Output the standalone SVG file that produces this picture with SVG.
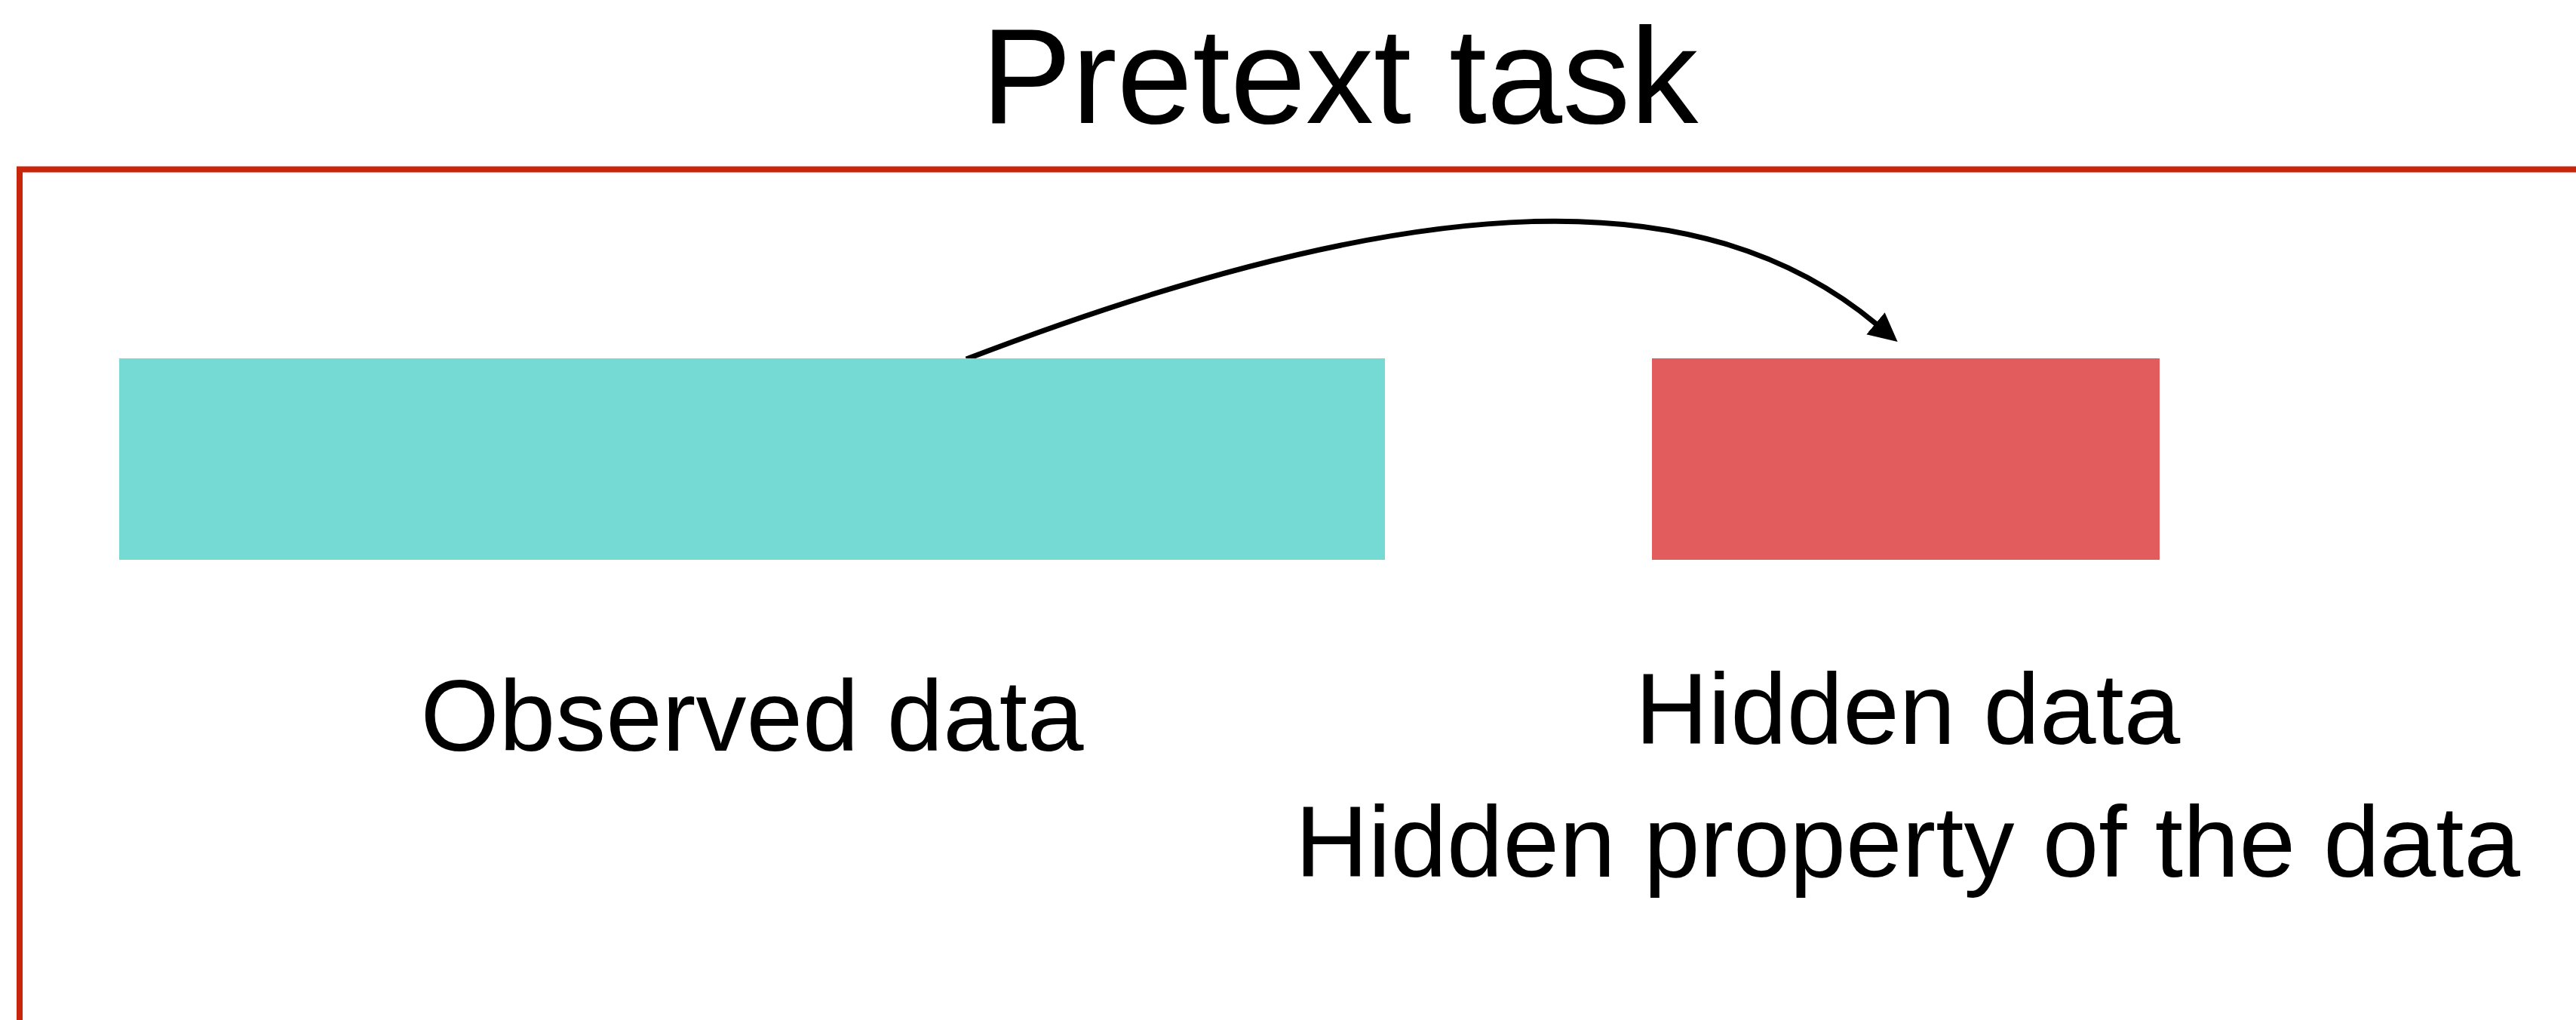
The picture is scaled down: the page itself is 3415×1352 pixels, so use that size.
<svg xmlns="http://www.w3.org/2000/svg" width="3415" height="1352" viewBox="0 0 3415 1352">
<style>
.lbl{font-family:"Liberation Sans",Arial,Helvetica,sans-serif;fill:#000;text-anchor:middle}
.conn{fill:none;stroke:#000;stroke-width:7}
</style>
<defs>
<marker id="ah" markerUnits="userSpaceOnUse" markerWidth="44" markerHeight="44" refX="2" refY="19" orient="auto">
<path d="M0,0 L38,19 L0,38 z" fill="#000"/>
</marker>
</defs>
<rect width="3415" height="1352" fill="#fff"/>
<text class="lbl" x="1776" y="163" font-size="180">Pretext task</text>
<g id="frame">
<path d="M26,1360 V224.5 H3420" fill="none" stroke="#C8250A" stroke-width="8"/>
</g>
<g id="connectors">
<path class="conn" d="M1281,476 C1897,240 2262,241 2488,430" marker-end="url(#ah)"/>
</g>
<g id="observed">
<rect x="158" y="475" width="1678" height="267" fill="#74DAD3"/>
<text class="lbl" x="997" y="995" font-size="134">Observed data</text>
</g>
<g id="hidden">
<rect x="2190" y="475" width="673" height="267" fill="#E25C5D"/>
<text class="lbl" x="2529" y="986" font-size="134">Hidden data</text>
<text class="lbl" x="2529" y="1162" font-size="134">Hidden property of the data</text>
</g>
</svg>
